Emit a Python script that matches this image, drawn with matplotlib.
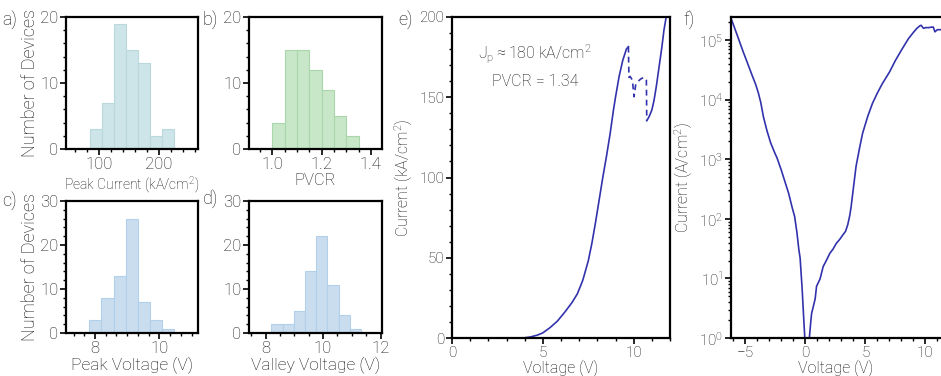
import matplotlib
matplotlib.use('Agg')
import matplotlib.pyplot as plt
from matplotlib.ticker import AutoMinorLocator, MultipleLocator, LogLocator, NullFormatter
import numpy as np

plt.rcParams['font.family'] = ['Roboto', 'DejaVu Sans']
plt.rcParams['font.weight'] = 'light'
plt.rcParams['axes.labelweight'] = 'light'
plt.rcParams['mathtext.fontset'] = 'custom'
plt.rcParams['mathtext.rm'] = 'Roboto:light'
plt.rcParams['mathtext.it'] = 'Roboto:italic:light'
plt.rcParams['mathtext.default'] = 'regular'
plt.rcParams['text.color'] = '#111111'
plt.rcParams['axes.labelcolor'] = '#111111'
plt.rcParams['xtick.labelcolor'] = '#111111'
plt.rcParams['ytick.labelcolor'] = '#111111'

# a) peak current histogram
peak_current_edges = [85, 105, 125, 145, 165, 185, 205, 225]
peak_current_counts = [3, 7, 19, 15, 13, 2, 3]
# b) PVCR histogram
pvcr_edges = [1.00, 1.05, 1.10, 1.15, 1.20, 1.25, 1.30, 1.35]
pvcr_counts = [4, 15, 15, 12, 9, 5, 2]
# c) peak voltage histogram
peak_voltage_edges = [7.82, 8.20, 8.58, 8.96, 9.33, 9.71, 10.08, 10.45]
peak_voltage_counts = [3, 8, 13, 26, 7, 3, 1]
# d) valley voltage histogram
valley_voltage_edges = [8.20, 8.59, 8.98, 9.37, 9.76, 10.15, 10.54, 10.93, 11.32]
valley_voltage_counts = [2, 2, 5, 14, 22, 11, 4, 1]

# e) linear J-V (kA/cm^2)
rise_v = [3.9, 4.3, 4.7, 5.0, 5.4, 5.8, 6.2, 6.6, 6.9, 7.2, 7.5, 7.7, 7.9, 8.1,
          8.3, 8.5, 8.7, 8.9, 9.0, 9.2, 9.4, 9.6, 9.71]
rise_j = [0.0, 0.6, 1.8, 3.2, 6.5, 10.5, 16.0, 22.0, 27.5, 36.0, 48.0, 59.0, 72.0, 86.0,
          100.0, 113.0, 127.0, 143.0, 150.0, 163.0, 173.0, 180.0, 181.5]
nd_v = [9.71, 9.74, 9.8, 9.93, 10.02, 10.11, 10.25, 10.39, 10.55, 10.65, 10.7, 10.72]
nd_j = [181.5, 162.4, 163.0, 160.7, 150.3, 157.6, 160.0, 161.4, 162.3, 161.8, 160.7, 135.4]
up_v = [10.72, 10.85, 11.0, 11.12, 11.25, 11.4, 11.55, 11.67, 11.79]
up_j = [135.4, 137.9, 142.0, 148.0, 157.0, 169.0, 181.0, 192.0, 200.0]

# f) log |J| (A/cm^2)
neg_v = [-6.15, -5.64, -5.2, -4.82, -4.45, -4.14, -3.92, -3.72, -3.5, -3.2, -2.9, -2.6,
         -2.36, -2.0, -1.67, -1.4, -1.12, -0.9, -0.71, -0.55, -0.44, -0.27, -0.18, -0.05]
neg_j = [2.2e5, 1.15e5, 6.5e4, 4.1e4, 2.6e4, 1.8e4, 1.3e4, 9.0e3, 5.2e3, 3.0e3, 1.9e3, 1.35e3,
         1.05e3, 6.5e2, 4.0e2, 2.7e2, 1.6e2, 1.1e2, 6.0e1, 3.1e1, 2.2e1, 6.6, 3.0, 1.0]
pos_v = [0.33, 0.45, 0.52, 0.81, 0.93, 1.22, 1.48, 1.8, 2.03, 2.3, 2.58, 2.85, 3.12,
         3.35, 3.53, 3.7, 3.81, 4.0, 4.22, 4.5, 4.77, 5.2, 5.59, 6.0, 6.41, 7.0, 7.51,
         8.0, 8.6, 9.0, 9.29, 9.5, 9.64, 9.84, 10.05, 10.25, 10.45, 10.66, 10.79, 11.0, 11.3]
pos_j = [1.0, 1.9, 2.6, 4.5, 7.4, 9.8, 15.8, 21.0, 26.3, 31.0, 38.9, 45.0, 53.7,
         62.0, 80.0, 115.0, 160.0, 330.0, 760.0, 1.5e3, 2.75e3, 5.3e3, 8.7e3, 1.3e4, 1.86e4,
         2.9e4, 4.6e4, 6.8e4, 1.07e5, 1.35e5, 1.58e5, 1.72e5, 1.78e5, 1.58e5, 1.63e5, 1.62e5,
         1.65e5, 1.66e5, 1.38e5, 1.5e5, 1.5e5]

W, H = 941, 376
fig = plt.figure(figsize=(W / 100, H / 100), dpi=100)
line_color = '#3232ac'


def px_axes(left, top, right, bottom):
    return fig.add_axes([left / W, 1 - bottom / H, (right - left) / W, (bottom - top) / H])


def style_axes(ax, label_size):
    for s in ax.spines.values():
        s.set_linewidth(1.6)
    ax.tick_params(which='major', direction='out', length=4, width=1.2, labelsize=label_size, pad=1.5)
    ax.tick_params(which='minor', direction='out', length=2.5, width=1.0)


def draw_hist(ax, edges, counts, face, edge):
    edges = np.asarray(edges)
    ax.bar(edges[:-1], counts, width=np.diff(edges), align='edge',
           color=face, edgecolor=edge, linewidth=0.8)


hist_label = 12
ax_a = px_axes(66, 17, 198, 149)
draw_hist(ax_a, peak_current_edges, peak_current_counts, '#cde4e8', '#b9d9dd')
ax_a.set_xlim(45, 265)
ax_a.set_ylim(0, 20)
ax_a.xaxis.set_major_locator(MultipleLocator(100))
ax_a.xaxis.set_minor_locator(AutoMinorLocator(5))
ax_a.yaxis.set_major_locator(MultipleLocator(10))
ax_a.yaxis.set_minor_locator(AutoMinorLocator(5))
ax_a.set_xlabel('Peak Current (kA/cm$^2$)', fontsize=10, labelpad=2)
ax_a.set_ylabel('Number of Devices', fontsize=13, labelpad=1)
style_axes(ax_a, hist_label)

ax_b = px_axes(249, 17, 382, 149)
draw_hist(ax_b, pvcr_edges, pvcr_counts, '#c8e6c8', '#a9d6aa')
ax_b.set_xlim(0.905, 1.445)
ax_b.set_ylim(0, 20)
ax_b.xaxis.set_major_locator(MultipleLocator(0.2))
ax_b.xaxis.set_minor_locator(AutoMinorLocator(4))
ax_b.yaxis.set_major_locator(MultipleLocator(10))
ax_b.yaxis.set_minor_locator(AutoMinorLocator(5))
ax_b.set_xlabel('PVCR', fontsize=12, labelpad=1)
style_axes(ax_b, hist_label)

ax_c = px_axes(66, 201, 198, 333)
draw_hist(ax_c, peak_voltage_edges, peak_voltage_counts, '#c9ddef', '#b3d0ea')
ax_c.set_xlim(7.1, 11.2)
ax_c.set_ylim(0, 30)
ax_c.xaxis.set_major_locator(MultipleLocator(2))
ax_c.xaxis.set_minor_locator(AutoMinorLocator(6))
ax_c.yaxis.set_major_locator(MultipleLocator(10))
ax_c.yaxis.set_minor_locator(AutoMinorLocator(5))
ax_c.set_xlabel('Peak Voltage (V)', fontsize=12.5, labelpad=1)
ax_c.set_ylabel('Number of Devices', fontsize=13, labelpad=1)
style_axes(ax_c, hist_label)

ax_d = px_axes(249, 201, 382, 333)
draw_hist(ax_d, valley_voltage_edges, valley_voltage_counts, '#c9ddef', '#b3d0ea')
ax_d.set_xlim(7.42, 12.05)
ax_d.set_ylim(0, 30)
ax_d.xaxis.set_major_locator(MultipleLocator(2))
ax_d.xaxis.set_minor_locator(AutoMinorLocator(4))
ax_d.yaxis.set_major_locator(MultipleLocator(10))
ax_d.yaxis.set_minor_locator(AutoMinorLocator(5))
ax_d.set_xlabel('Valley Voltage (V)', fontsize=12.5, labelpad=1)
style_axes(ax_d, hist_label)

ax_e = px_axes(452, 17, 670, 338)
ax_e.plot(rise_v, rise_j, color=line_color, lw=1.2)
ax_e.plot(nd_v, nd_j, color=line_color, lw=1.2, ls=(0, (3.5, 2.5)))
ax_e.plot(up_v, up_j, color=line_color, lw=1.2)
ax_e.set_xlim(0, 12)
ax_e.set_ylim(0, 200)
ax_e.xaxis.set_major_locator(MultipleLocator(5))
ax_e.xaxis.set_minor_locator(MultipleLocator(1))
ax_e.yaxis.set_major_locator(MultipleLocator(50))
ax_e.yaxis.set_minor_locator(MultipleLocator(10))
ax_e.set_xlabel('Voltage (V)', fontsize=11.5, labelpad=0)
ax_e.set_ylabel('Current (kA/cm$^2$)', fontsize=11.5, labelpad=3)
ax_e.text(0.38, 0.885, 'J$_p$$\\approx$180 kA/cm$^2$', transform=ax_e.transAxes,
          ha='center', va='center', fontsize=11.5)
ax_e.text(0.38, 0.80, 'PVCR = 1.34', transform=ax_e.transAxes,
          ha='center', va='center', fontsize=11.5)
style_axes(ax_e, 11)

ax_f = px_axes(731, 17, 941, 338)
ax_f.plot(neg_v, neg_j, color=line_color, lw=1.2)
ax_f.plot(pos_v, pos_j, color=line_color, lw=1.2)
ax_f.set_yscale('log')
ax_f.set_xlim(-6.2, 11.3)
ax_f.set_ylim(1, 2.45e5)
ax_f.spines['right'].set_visible(False)
ax_f.xaxis.set_major_locator(MultipleLocator(5))
ax_f.xaxis.set_minor_locator(MultipleLocator(1))
ax_f.yaxis.set_major_locator(LogLocator(base=10, numticks=10))
ax_f.yaxis.set_minor_locator(LogLocator(base=10, subs=np.arange(2, 10), numticks=20))
ax_f.yaxis.set_minor_formatter(NullFormatter())
ax_f.set_xlabel('Voltage (V)', fontsize=11.5, labelpad=0)
ax_f.set_ylabel('Current (A/cm$^2$)', fontsize=11.5, labelpad=3)
style_axes(ax_f, 11)

for lbl, x, y in [('a)', 2, 20), ('b)', 203, 20), ('c)', 2, 201), ('d)', 203, 199),
                  ('e)', 398, 20), ('f)', 683, 20)]:
    fig.text(x / W, 1 - y / H, lbl, fontsize=13, ha='left', va='center')

fig.savefig('out.png', dpi=100)
